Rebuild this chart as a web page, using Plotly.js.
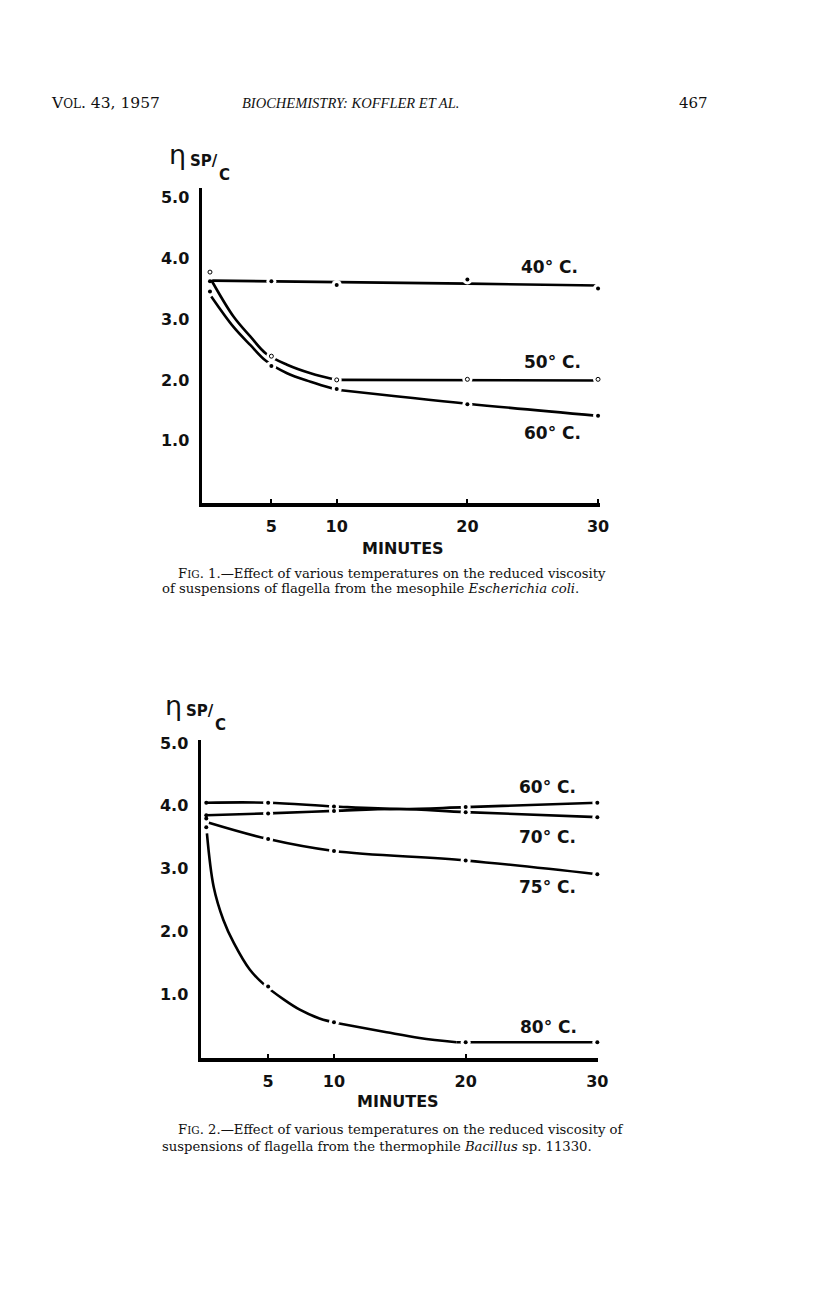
<!DOCTYPE html>
<html>
<head>
<meta charset="utf-8">
<script src="https://cdn.plot.ly/plotly-3.0.1.min.js"></script>
<style>
html,body{margin:0;padding:0;background:#fff;}
#chart{width:816px;height:1294px;}
</style>
</head>
<body>
<div id="chart"></div>
<script>
// ---------- DATA ----------
// measured times (minutes) of the plotted points
const pointMinutes = [0.3, 5, 10, 20, 30];
const xTickVals = [5, 10, 20, 30];
const xTickText = ["5", "10", "20", "30"];
const yTickVals = [1, 2, 3, 4, 5];
const yTickText = ["1.0", "2.0", "3.0", "4.0", "5.0"];

// Fig. 1 — Escherichia coli
const fig1Labels = ["40° C.", "50° C.", "60° C."];
const fig1Points40 = [3.62, 3.62, 3.56, 3.65, 3.50];
const fig1Points50 = [3.77, 2.39, 2.00, 2.01, 2.01];
const fig1Points60 = [3.45, 2.23, 1.85, 1.60, 1.41];
// drawn (hand-fitted) curves
const fig1CurveMin40 = [0.5, 10, 20, 30];
const fig1Curve40 = [3.63, 3.60, 3.58, 3.55];
const fig1CurveMin = [0.4, 2.1, 3.4, 4.6, 6.2, 8.0, 10, 20, 30];
const fig1Curve50 = [3.64, 3.04, 2.71, 2.43, 2.25, 2.11, 2.00, 2.00, 1.99];
const fig1Curve60 = [3.37, 2.87, 2.57, 2.31, 2.11, 1.97, 1.84, 1.61, 1.41];

// Fig. 2 — Bacillus sp. 11330
const fig2Labels = ["60° C.", "70° C.", "75° C.", "80° C."];
const fig2Points60 = [4.05, 4.05, 3.99, 3.98, 4.05];
const fig2Points70 = [3.85, 3.88, 3.92, 3.90, 3.82];
const fig2Points75 = [3.80, 3.47, 3.28, 3.13, 2.91];
const fig2Points80 = [3.66, 1.12, 0.55, 0.23, 0.23];
const fig2CurveMinA = [0.3, 5, 10, 15, 20, 30];
const fig2Curve60 = [4.05, 4.05, 3.99, 3.95, 3.98, 4.05];
const fig2Curve70 = [3.85, 3.88, 3.92, 3.95, 3.90, 3.82];
const fig2CurveMin75 = [0.5, 5, 10, 20, 30];
const fig2Curve75 = [3.73, 3.47, 3.28, 3.13, 2.91];
const fig2CurveMin80 = [0.35, 0.86, 1.6, 2.4, 3.6, 4.7, 6.2, 7.4, 8.9, 10.4, 14, 16.5, 19.3, 30];
const fig2Curve80 = [3.56, 2.71, 2.18, 1.81, 1.39, 1.15, 0.91, 0.75, 0.61, 0.53, 0.39, 0.30, 0.23, 0.23];

// ---------- helpers (layout only) ----------
const W = 816, H = 1294;
const px = x => x / W;
const py = y => 1 - y / H;

function curve(x, y, xa, ya, shape) {
  return {x: x, y: y, xaxis: xa, yaxis: ya, type: 'scatter', mode: 'lines',
    line: {color: '#000', width: 2.6, shape: shape || 'spline', smoothing: 1},
    hoverinfo: 'skip', showlegend: false};
}
// piece of a curve, between two indices of its arrays
function piece(x, y, i0, i1, xa, ya, shape) {
  return curve(x.slice(i0, i1 + 1), y.slice(i0, i1 + 1), xa, ya, shape);
}
function gaps(x, y, xa, ya) {
  return {x: x, y: y, xaxis: xa, yaxis: ya, type: 'scatter', mode: 'markers',
    marker: {color: '#fff', size: 10, line: {width: 0}},
    hoverinfo: 'skip', showlegend: false, cliponaxis: false};
}
function dots(x, y, xa, ya, sym) {
  return {x: x, y: y, xaxis: xa, yaxis: ya, type: 'scatter', mode: 'markers',
    marker: {color: sym === 'circle-open' ? '#fff' : '#000', symbol: 'circle', size: 4,
             line: {color: '#000', width: sym === 'circle-open' ? 1 : 0}},
    hoverinfo: 'skip', showlegend: false, cliponaxis: false};
}

const data = [
  // fig 1
  curve(fig1CurveMin40, fig1Curve40, 'x', 'y', 'linear'),
  piece(fig1CurveMin, fig1Curve50, 0, 6, 'x', 'y'),
  piece(fig1CurveMin, fig1Curve50, 6, 8, 'x', 'y', 'linear'),
  piece(fig1CurveMin, fig1Curve60, 0, 6, 'x', 'y'),
  piece(fig1CurveMin, fig1Curve60, 6, 8, 'x', 'y'),
  gaps(pointMinutes.slice(1), fig1Points40.slice(1), 'x', 'y'),
  gaps(pointMinutes.slice(1), fig1Points50.slice(1), 'x', 'y'),
  gaps(pointMinutes.slice(1), fig1Points60.slice(1), 'x', 'y'),
  dots(pointMinutes, fig1Points40, 'x', 'y', 'dot'),
  dots(pointMinutes, fig1Points50, 'x', 'y', 'circle-open'),
  dots(pointMinutes, fig1Points60, 'x', 'y', 'dot'),
  // fig 2
  curve(fig2CurveMinA, fig2Curve60, 'x2', 'y2'),
  curve(fig2CurveMinA, fig2Curve70, 'x2', 'y2'),
  curve(fig2CurveMin75, fig2Curve75, 'x2', 'y2'),
  piece(fig2CurveMin80, fig2Curve80, 0, 9, 'x2', 'y2'),
  piece(fig2CurveMin80, fig2Curve80, 9, 12, 'x2', 'y2'),
  piece(fig2CurveMin80, fig2Curve80, 12, 13, 'x2', 'y2', 'linear'),
  gaps(pointMinutes.slice(1), fig2Points60.slice(1), 'x2', 'y2'),
  gaps(pointMinutes.slice(1), fig2Points70.slice(1), 'x2', 'y2'),
  gaps(pointMinutes.slice(1), fig2Points75.slice(1), 'x2', 'y2'),
  gaps(pointMinutes.slice(1), fig2Points80.slice(1), 'x2', 'y2'),
  dots(pointMinutes, fig2Points60, 'x2', 'y2', 'dot'),
  dots(pointMinutes, fig2Points70, 'x2', 'y2', 'dot'),
  dots(pointMinutes, fig2Points75, 'x2', 'y2', 'dot'),
  dots(pointMinutes, fig2Points80, 'x2', 'y2', 'dot')
];

const tickFont = {family: 'DejaVu Sans', size: 16, color: '#111', weight: 'bold'};
function xAxis(domain, range, anchor) {
  return {domain: domain, range: range, anchor: anchor, showgrid: false, zeroline: false,
    showline: true, linecolor: '#000', linewidth: 3.5, ticks: 'inside', ticklen: 4,
    tickwidth: 2, tickcolor: '#000', tickvals: xTickVals, ticktext: xTickText,
    tickfont: tickFont, ticklabelstandoff: 6, fixedrange: true};
}
function yAxis(domain, range, anchor) {
  return {domain: domain, range: range, anchor: anchor, showgrid: false, zeroline: false,
    showline: true, linecolor: '#000', linewidth: 3.5, ticks: '',
    tickvals: yTickVals, ticktext: yTickText, tickfont: tickFont,
    ticklabelstandoff: 6, fixedrange: true};
}

const serif = 'DejaVu Serif';
const ann = [];
function paperText(text, x, y, opts) {
  ann.push(Object.assign({text: text, x: px(x), y: py(y), xref: 'paper', yref: 'paper',
    showarrow: false, xanchor: 'left', yanchor: 'middle',
    font: {family: serif, size: 14, color: '#111'}}, opts || {}));
}
// page header
paperText('V<span style="font-size:12px">OL</span>. 43, 1957', 49, 103, {font: {family: serif, size: 15.5, color: '#111'}});
paperText('<i>BIOCHEMISTRY: KOFFLER ET AL.</i>', 350, 103, {xanchor: 'center', font: {family: 'Liberation Serif', size: 14.5, color: '#111'}});
paperText('467', 710, 103, {xanchor: 'right', font: {family: serif, size: 15, color: '#111'}});

// y-axis symbol η sp/c
function etaTitle(x0, y0) {
  paperText('η', x0, y0, {xanchor: 'center', font: {family: 'DejaVu Sans', size: 27, color: '#111'}});
  paperText('SP/', x0 + 11, y0 + 6,
    {xanchor: 'left', font: {family: 'DejaVu Sans', size: 15, color: '#111', weight: 'bold'}});
  paperText('C', x0 + 40, y0 + 20,
    {xanchor: 'left', font: {family: 'DejaVu Sans', size: 15, color: '#111', weight: 'bold'}});
}
etaTitle(177, 155);
etaTitle(173, 705);

// MINUTES
paperText('MINUTES', 403, 548, {xanchor: 'center', font: {family: 'DejaVu Sans', size: 16, color: '#111', weight: 'bold'}});
paperText('MINUTES', 398, 1101, {xanchor: 'center', font: {family: 'DejaVu Sans', size: 16, color: '#111', weight: 'bold'}});

// captions
const capFont = {family: serif, size: 13.2, color: '#111'};
paperText('F<span style="font-size:10.5px">IG</span>. 1.—Effect of various temperatures on the reduced viscosity', 176, 573, {font: capFont});
paperText('of suspensions of flagella from the mesophile <i>Escherichia coli</i>.', 160, 589, {font: capFont});
paperText('F<span style="font-size:10.5px">IG</span>. 2.—Effect of various temperatures on the reduced viscosity of', 176, 1129, {font: capFont});
paperText('suspensions of flagella from the thermophile <i>Bacillus</i> sp. 11330.', 160, 1146, {font: capFont});

// series labels (data coords)
const labFont = {family: 'DejaVu Sans', size: 17, color: '#111', weight: 'bold'};
const fig1LabelPos = [[26.3, 3.85], [26.5, 2.30], [26.5, 1.13]];
fig1Labels.forEach((t, i) => ann.push({text: t, x: fig1LabelPos[i][0], y: fig1LabelPos[i][1],
  xref: 'x', yref: 'y', showarrow: false, font: labFont}));
const fig2LabelPos = [[26.2, 4.30], [26.2, 3.51], [26.2, 2.71], [26.3, 0.48]];
fig2Labels.forEach((t, i) => ann.push({text: t, x: fig2LabelPos[i][0], y: fig2LabelPos[i][1],
  xref: 'x2', yref: 'y2', showarrow: false, font: labFont}));

const layout = {
  width: W, height: H,
  margin: {l: 0, r: 0, t: 0, b: 0},
  paper_bgcolor: '#fff', plot_bgcolor: 'rgba(0,0,0,0)',
  showlegend: false,
  xaxis: xAxis([px(202), px(600)], [-0.31, 30.15], 'y'),
  yaxis: yAxis([py(503), py(188)], [-0.02, 5.15], 'x'),
  xaxis2: xAxis([px(201), px(598)], [-0.1, 30.05], 'y2'),
  yaxis2: yAxis([py(1058), py(740)], [-0.02, 5.05], 'x2'),
  annotations: ann
};

Plotly.newPlot('chart', data, layout, {staticPlot: true, displayModeBar: false});
</script>
</body>
</html>
